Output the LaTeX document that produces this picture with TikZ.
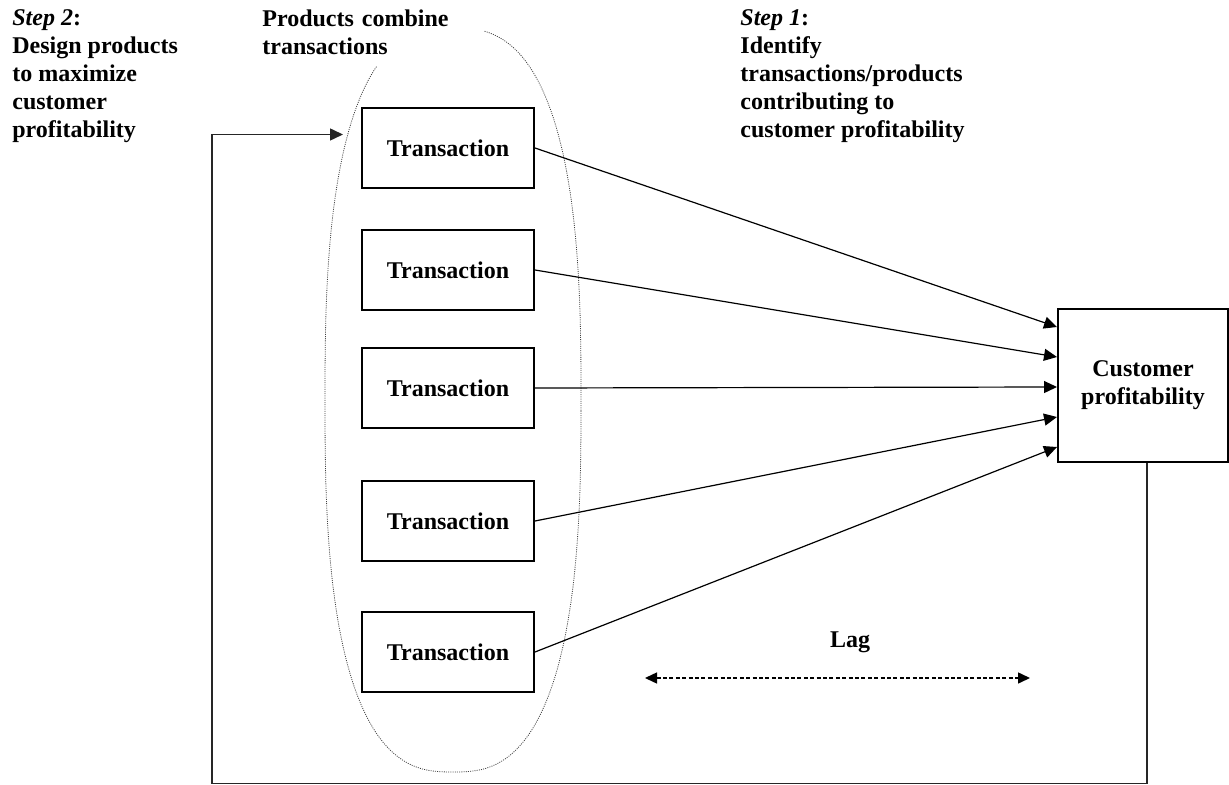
\documentclass[tikz,border=0pt]{standalone}
\usepackage{fontspec}
\setmainfont{Liberation Serif}
\usetikzlibrary{arrows.meta,calc}
\begin{document}
\begin{tikzpicture}[x=0.5pt,y=-0.5pt,
  font=\bfseries\fontsize{12}{14}\selectfont,
  txbox/.style={draw, line width=1pt, minimum width=86pt, minimum height=40pt, inner sep=0pt},
  flow/.style={-{Triangle[length=6.5pt,width=6pt]}, line width=0.6pt},
  lagline/.style={{Triangle[length=6pt,width=5.5pt]}-{Triangle[length=6pt,width=5.5pt]}, line width=0.75pt, dash pattern=on 2pt off 1.2pt},
  loopline/.style={-{Triangle[length=6.5pt,width=6pt]}, line width=0.75pt, draw=black!85},
  group/.style={draw=black!75, line width=0.4pt, dash pattern=on 0.5pt off 0.6pt},
  steptext/.style={align=left, anchor=north west, inner sep=0pt}
]
\useasboundingbox (0,0) rectangle (1229,785);

% grouping of transactions into products (a rounded, slightly boxy oval)
\draw[group] plot[domain=0.5:358.5, samples=180, variable=\t]
  ({453+128*sign(cos(\t))*pow(abs(cos(\t)),0.75)},
   {400+372*sign(sin(\t))*pow(abs(sin(\t)),0.75)}) -- cycle;

% step captions
\node[steptext] (s2) at (12,9) {\textit{Step 2}:\\Design products\\to maximize\\customer\\profitability};
\node[steptext, fill=white, inner xsep=3pt, inner ysep=6pt, text width=108pt] (pc) at (256,-3) {Products combine\\transactions};
\node[steptext] (s1) at (740,9) {\textit{Step 1}:\\Identify\\transactions/products\\contributing to\\customer profitability};

% transactions
\node[txbox] (t1) at (448,148) {Transaction};
\node[txbox] (t2) at (448,270) {Transaction};
\node[txbox] (t3) at (448,388) {Transaction};
\node[txbox] (t4) at (448,521) {Transaction};
\node[txbox] (t5) at (448,652) {Transaction};

% outcome
\node[draw, line width=1pt, minimum width=85pt, minimum height=76.5pt, inner sep=0pt, align=center] (cp) at (1143,385.5) {Customer\\profitability};

\draw[flow] (t1.east) -- ($(cp.west)+(0,-58.5)$);
\draw[flow] (t2.east) -- ($(cp.west)+(0,-28.5)$);
\draw[flow] (t3.east) -- ($(cp.west)+(0,1.5)$);
\draw[flow] (t4.east) -- ($(cp.west)+(0,31.5)$);
\draw[flow] (t5.east) -- ($(cp.west)+(0,61.5)$);

% lag between transactions and profitability
\node (lag) at (850,642) {Lag};
\coordinate (lagL) at (645,678);
\coordinate (lagR) at (1030,678);
\draw[lagline] (lagL) -- (lagR);

% feedback loop into product design
\coordinate (inlet) at (343,134.5);
\draw[loopline] ($(cp.south)+(4,0)$) -- (1147,783.5) -- (212,783.5) -- (212,134.5) -- (inlet);
\end{tikzpicture}
\end{document}
